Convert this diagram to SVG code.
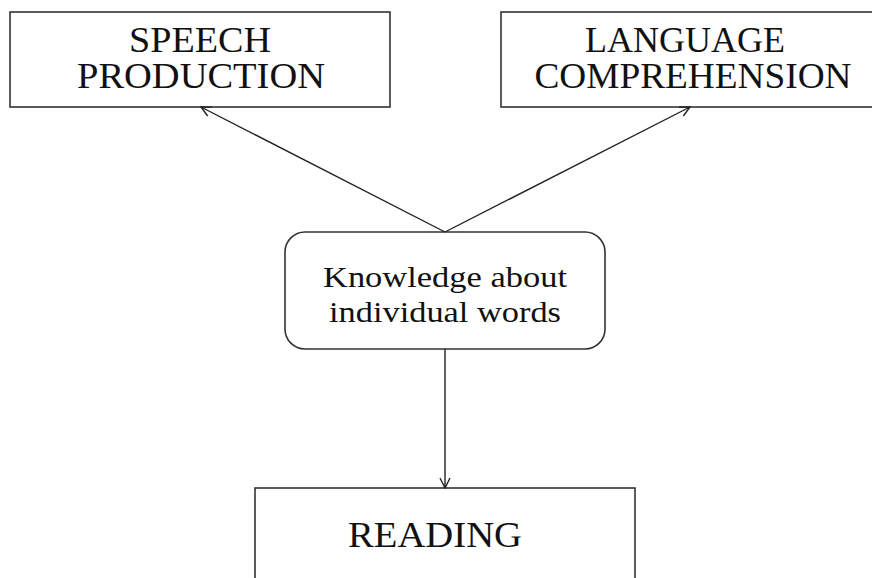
<svg xmlns="http://www.w3.org/2000/svg" width="872" height="578" viewBox="0 0 872 578">
<style>
.box{fill:#fff;stroke:#333;stroke-width:1.6}
.t{font-family:"Liberation Serif","Times New Roman",serif;fill:#111;text-anchor:middle}
.big{font-size:35px}
.mid{font-size:30px}
.c{stroke:#222;stroke-width:1.4;fill:none}
</style>
<defs>
<marker id="ah" viewBox="0 0 12 12" refX="11" refY="6" markerWidth="12" markerHeight="12" markerUnits="userSpaceOnUse" orient="auto">
<path d="M1,1 L11,6 L1,11" fill="none" stroke="#222" stroke-width="1.4"/>
</marker>
</defs>
<rect width="872" height="578" fill="#fff"/>
<g id="speech">
<rect class="box" x="10" y="12" width="380" height="95"/>
<text class="t big" x="200" y="52" textLength="142" lengthAdjust="spacingAndGlyphs">SPEECH</text>
<text class="t big" x="201" y="88" textLength="248" lengthAdjust="spacingAndGlyphs">PRODUCTION</text>
</g>
<g id="language">
<rect class="box" x="501" y="12" width="380" height="95"/>
<text class="t big" x="685" y="52" textLength="200" lengthAdjust="spacingAndGlyphs">LANGUAGE</text>
<text class="t big" x="693" y="88" textLength="317" lengthAdjust="spacingAndGlyphs">COMPREHENSION</text>
</g>
<g id="knowledge">
<rect class="box" x="285" y="232" width="320" height="117" rx="20" ry="20"/>
<text class="t mid" x="445" y="287" textLength="244" lengthAdjust="spacingAndGlyphs">Knowledge about</text>
<text class="t mid" x="445" y="322" textLength="232" lengthAdjust="spacingAndGlyphs">individual words</text>
</g>
<g id="reading">
<rect class="box" x="255" y="488" width="380" height="110"/>
<text class="t big" x="435" y="547" textLength="174" lengthAdjust="spacingAndGlyphs">READING</text>
</g>
<g id="connectors">
<line class="c" x1="445" y1="232" x2="201" y2="107" marker-end="url(#ah)"/>
<line class="c" x1="445" y1="232" x2="690" y2="107" marker-end="url(#ah)"/>
<line class="c" x1="445" y1="349" x2="445" y2="488" marker-end="url(#ah)"/>
</g>
</svg>
